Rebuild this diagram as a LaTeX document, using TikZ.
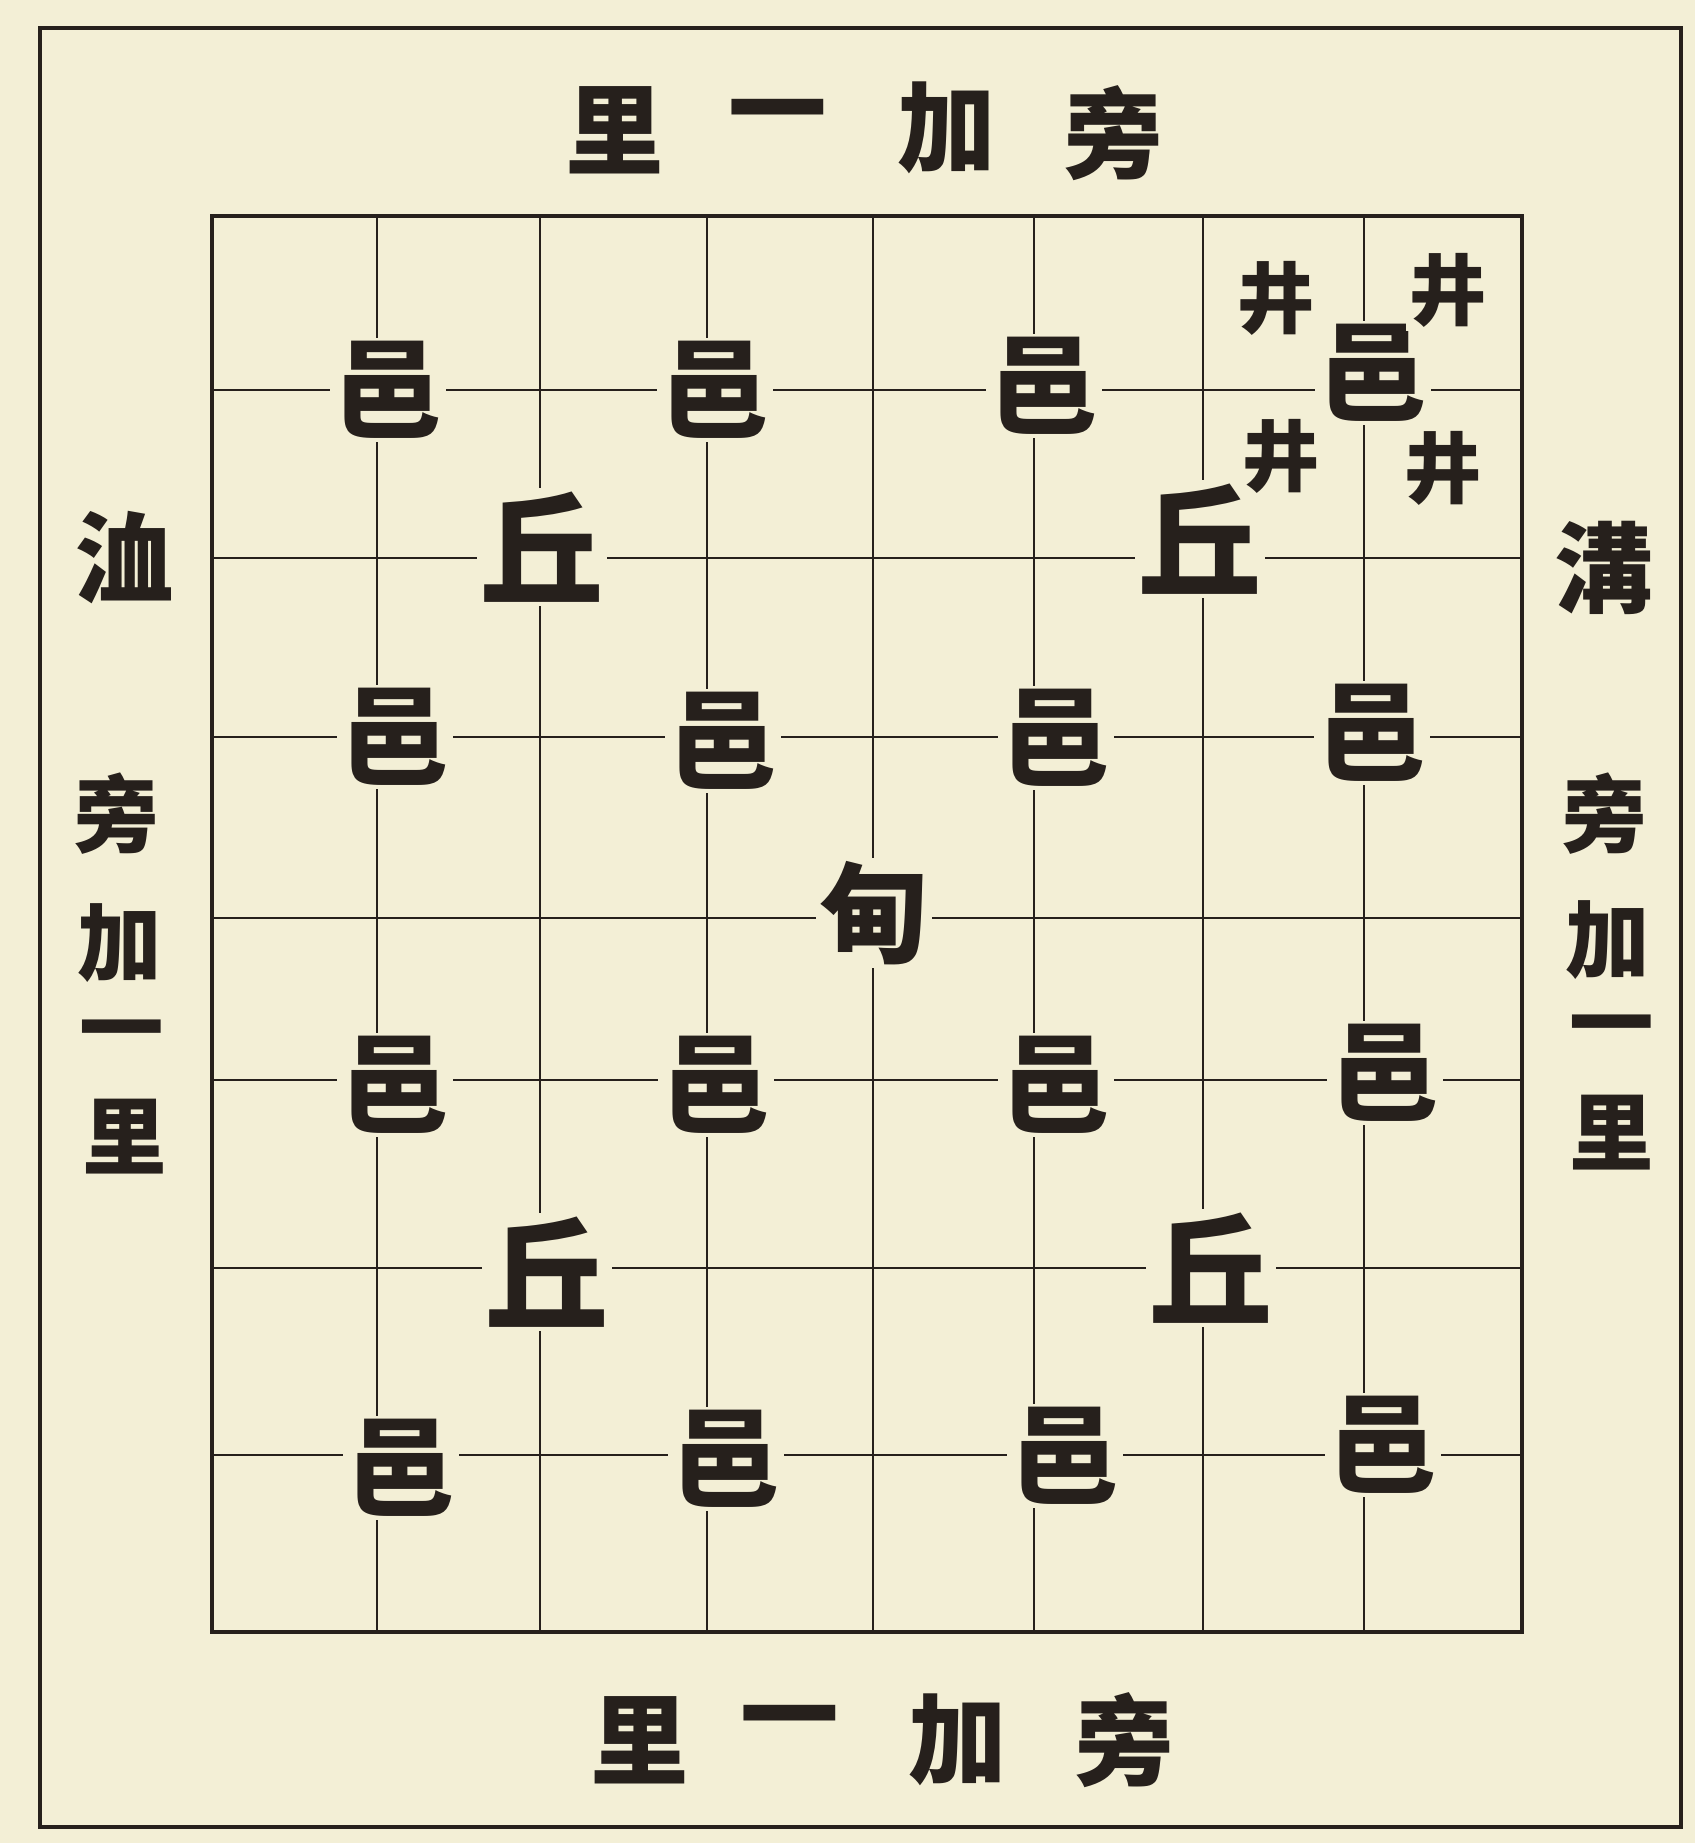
\documentclass[tikz,border=0pt]{standalone}
\usepackage{fontspec}
\newfontfamily\cjk{Noto Sans CJK TC}
\definecolor{paper}{RGB}{243,239,214}
\definecolor{ink}{RGB}{38,32,28}
\begin{document}
\begin{tikzpicture}[x=0.01cm,y=-0.01cm,
  glyph/.style={text=ink, fill=paper, inner sep=1pt, font=\cjk\bfseries\fontsize{31}{31}\selectfont},
  cell/.style={glyph},
  hill/.style={glyph, font=\cjk\bfseries\fontsize{35}{35}\selectfont},
  well/.style={glyph, font=\cjk\bfseries\fontsize{22}{22}\selectfont},
  label/.style={glyph, font=\cjk\bfseries\fontsize{28}{28}\selectfont},
  side/.style={glyph, inner sep=0pt, font=\cjk\bfseries\fontsize{24}{24}\selectfont},
  frame/.style={draw=ink, line width=1.2pt},
  gridline/.style={draw=ink, line width=0.65pt}]
\useasboundingbox (0,0) rectangle (1695,1843);
\fill[paper] (0,0) rectangle (1695,1843);
% outer frame
\draw[frame] (40,28) rectangle (1681,1827);
% inner grid
\foreach \gx in {377,540,707,873,1034,1203,1364}
  \draw[gridline] (\gx,216) -- (\gx,1632);
\foreach \gy in {390,558,737,918,1080,1268,1455}
  \draw[gridline] (212,\gy) -- (1522,\gy);
\draw[frame, line width=1.0pt] (212,216) rectangle (1522,1632);
% top labels
\node[label] (t1) at (615,130) {里};
\node[label] (t2) at (778,122) {一};
\node[label] (t3) at (947,128) {加};
\node[label] (t4) at (1114,133) {旁};
% bottom labels
\node[label] (b1) at (640,1740) {里};
\node[label] (b2) at (790,1728) {一};
\node[label] (b3) at (958,1740) {加};
\node[label] (b4) at (1125,1740) {旁};
% left column
\node[label] (l0) at (125,558) {洫};
\node[side] (l1) at (117,814) {旁};
\node[side] (l2) at (120,943) {加};
\node[side] (l3) at (122,1040) {一};
\node[side] (l4) at (125,1137) {里};
% right column
\node[label] (r0) at (1604,568) {溝};
\node[side] (r1) at (1605,814) {旁};
\node[side] (r2) at (1608,940) {加};
\node[side] (r3) at (1612,1035) {一};
\node[side] (r4) at (1612,1133) {里};
% grid characters
\node[cell] (y11) at (388,390) {邑};
\node[cell] (y12) at (715,390) {邑};
\node[cell] (y13) at (1044,386) {邑};
\node[cell] (y14) at (1373,373) {邑};
\node[hill] (h11) at (542,547) {丘};
\node[hill] (h12) at (1200,539) {丘};
\node[cell] (y21) at (395,737) {邑};
\node[cell] (y22) at (723,741) {邑};
\node[cell] (y23) at (1056,738) {邑};
\node[cell] (y24) at (1372,733) {邑};
\node[cell] (dian) at (874,913) {甸};
\node[cell] (y31) at (395,1085) {邑};
\node[cell] (y32) at (716,1085) {邑};
\node[cell] (y33) at (1056,1085) {邑};
\node[cell] (y34) at (1385,1073) {邑};
\node[hill] (h21) at (547,1272) {丘};
\node[hill] (h22) at (1211,1268) {丘};
\node[cell] (y41) at (401,1468) {邑};
\node[cell] (y42) at (726,1459) {邑};
\node[cell] (y43) at (1065,1456) {邑};
\node[cell] (y44) at (1383,1445) {邑};
% wells
\node[well] (w1) at (1276,298) {井};
\node[well] (w2) at (1448,290) {井};
\node[well] (w3) at (1281,456) {井};
\node[well] (w4) at (1443,468) {井};
\end{tikzpicture}
\end{document}
